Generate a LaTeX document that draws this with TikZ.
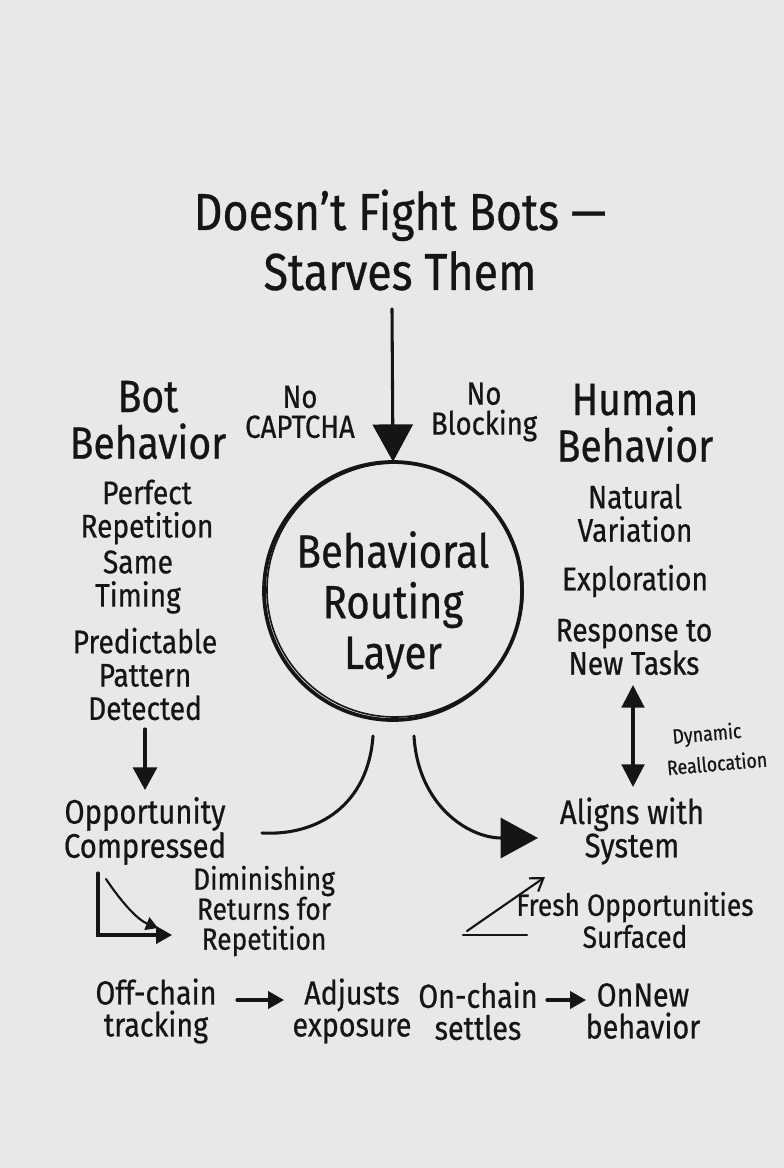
\documentclass[tikz,border=0pt]{standalone}
\usepackage{fontspec}
\setmainfont{Fira Sans}[FakeStretch=0.86,FakeBold=0.6]
\usetikzlibrary{arrows.meta}
\newcommand\fsz[2]{\fontsize{#1}{#2}\selectfont}
\definecolor{paper}{HTML}{E8E8E7}
\definecolor{ink}{HTML}{151515}
\begin{document}
\begin{tikzpicture}[x=0.75pt,y=-0.75pt,
  txt/.style={align=center,inner sep=0pt,text=ink},
  ln/.style={draw=ink,line width=2.3pt,line cap=round},
  thinln/.style={draw=ink,line width=1.6pt,line cap=round},
  bighead/.style={-{Triangle[width=30pt,length=28pt]}},
  midhead/.style={-{Triangle[width=18pt,length=17pt]}},
  smallhead/.style={-{Triangle[width=13pt,length=12pt]}},
  dblhead/.style={{Triangle[width=17pt,length=17pt]}-{Triangle[width=17pt,length=17pt]}}]
\useasboundingbox (0,0) rectangle (784,1168);
\fill[paper] (0,0) rectangle (784,1168);

% title
\node[txt,font=\fsz{39}{45}] (title) at (400,240) {Doesn't Fight Bots —\\Starves Them};

% central circle
\node[circle,minimum size=258*0.75pt,inner sep=0pt] (layer) at (393,591) {};
\draw[ink,line width=2.8pt] (layer.center) circle[radius=129];
\draw[ink,line width=1.2pt] (395,590) ellipse[x radius=128,y radius=127];
\node[txt,font=\fsz{35}{38}] (layertxt) at (393,605) {Behavioral\\Routing\\Layer};

% top arrow
\coordinate (topstart) at (392,309);
\draw[ln,bighead] (topstart) -- (layer.north);

% side labels
\node[txt,font=\fsz{24}{22.5}] (captcha) at (300,412) {No\\CAPTCHA};
\node[txt,font=\fsz{24}{22.5}] (blocking) at (484,412) {No\\Blocking};

% bot side
\node[txt,font=\fsz{34}{35}] (bot) at (148,420) {Bot\\Behavior};
\node[txt,font=\fsz{24.5}{25}] (perfect) at (147,512) {Perfect\\Repetition};
\node[txt,font=\fsz{24.5}{25}] (timing) at (138,582) {Same\\Timing};
\node[txt,font=\fsz{24.5}{25}] (pattern) at (145,674) {Predictable\\Pattern\\Detected};
\node[txt,font=\fsz{25.5}{24}] (opp) at (145,831) {Opportunity\\Compressed};
\coordinate (dstart) at (145,729);
\coordinate (dend) at (145,790);
\draw[ln,midhead] (dstart) -- (dend);

% human side
\node[txt,font=\fsz{34}{35}] (human) at (635,423) {Human\\Behavior};
\node[txt,font=\fsz{24.5}{25}] (natural) at (635,513) {Natural\\Variation};
\node[txt,font=\fsz{24.5}{25}] (explore) at (635,581) {Exploration};
\node[txt,font=\fsz{24.5}{25}] (response) at (634,647) {Response to\\New Tasks};
\node[txt,font=\fsz{25.5}{25}] (aligns) at (632,831) {Aligns with\\System};
\coordinate (dbltop) at (633,685);
\coordinate (dblbot) at (633,787);
\draw[ln,dblhead] (dbltop) -- (dblbot);
\node[txt,font=\fsz{15.5}{17},rotate=5] (dynamic) at (707,735) {Dynamic};
\node[txt,font=\fsz{15.5}{17},rotate=5] (realloc) at (717,763) {Reallocation};

% curves from circle
\coordinate (lcs) at (373,736);
\coordinate (lce) at (262,833);
\draw[ln] (lcs) .. controls (368,805) and (318,836) .. (lce);
\coordinate (rcs) at (414,736);
\coordinate (rce) at (538,838);
\draw[ln,bighead] (rcs) .. controls (418,805) and (468,838) .. (rce);

% diminishing returns chart
\coordinate (ax0) at (98,873);
\coordinate (ax1) at (98,935);
\coordinate (ax2) at (172,935);
\draw[ln,smallhead] (ax0) -- (ax1) -- (ax2);
\coordinate (dc0) at (106,879);
\coordinate (dc1) at (158,928);
\draw[thinln,-{Triangle[width=10pt,length=9pt]}] (dc0) .. controls (122,903) and (138,920) .. (dc1);
\node[txt,font=\fsz{23}{22.5}] (dimin) at (264,911) {Diminishing\\Returns for\\Repetition};

% fresh opportunities
\coordinate (fl0) at (463,935);
\coordinate (fl1) at (527,935);
\draw[thinln] (fl0) -- (fl1);
\coordinate (fa0) at (467,931);
\coordinate (fa1) at (545,877);
\draw[thinln,-{Straight Barb[length=9pt,width=12pt]}] (fa0) -- (fa1);
\node[txt,font=\fsz{23}{24}] (fresh) at (635,920) {Fresh Opportunities\\Surfaced};

% bottom row
\node[txt,font=\fsz{25}{24}] (off) at (156,1011) {Off-chain\\tracking};
\node[txt,font=\fsz{25}{24}] (adjusts) at (352,1011) {Adjusts\\exposure};
\node[txt,font=\fsz{25}{24}] (onchain) at (478,1011) {On-chain\\settles};
\node[txt,font=\fsz{25}{24}] (onnew) at (643,1011) {OnNew\\behavior};
\coordinate (b1s) at (237,1000);
\coordinate (b1e) at (284,1000);
\draw[ln,smallhead] (b1s) -- (b1e);
\coordinate (b2s) at (547,1000);
\coordinate (b2e) at (586,1000);
\draw[ln,smallhead] (b2s) -- (b2e);
\end{tikzpicture}
\end{document}
